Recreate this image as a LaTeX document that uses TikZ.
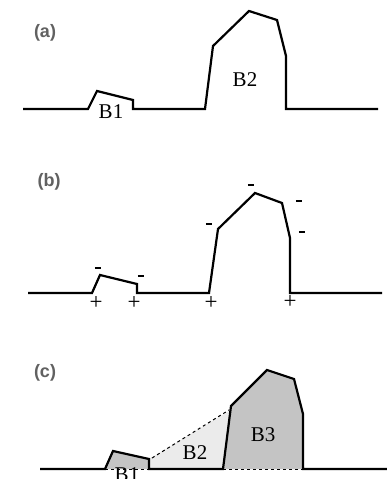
\documentclass[tikz,border=0pt]{standalone}
\usepackage{fontspec}
\setmainfont{Liberation Serif}
\newfontfamily\lblfont{Liberation Sans}
\begin{document}
\begin{tikzpicture}[x=1pt,y=-1pt,
  prof/.style={line width=2.2pt,line join=miter},
  panel/.style={font=\lblfont\bfseries\fontsize{18}{18}\selectfont,text=black!62,inner sep=0pt},
  blab/.style={font=\fontsize{21}{21}\selectfont,inner sep=0pt},
  sgn/.style={inner sep=0pt},
  psgn/.style={font=\fontsize{23}{23}\selectfont,inner sep=0pt},
  dsh/.style={line width=1pt,dash pattern=on 3pt off 3pt}]
\useasboundingbox (0,0) rectangle (387,479);
\fill[white] (0,0) rectangle (387,479);
\newcommand\mns{\rule[0pt]{6.5pt}{2.6pt}}
% ---------- (a)
\node[panel] (la) at (45,33) {(a)};
\draw[prof] (23,109) -- (88,109) -- (97,91) -- (133,100) -- (133,109) -- (205,109)
  -- (213,46) -- (249,11) -- (277,20) -- (286,56) -- (286,109) -- (378,109);
\node[blab] (a1) at (111,112) {B1};
\node[blab] (a2) at (245,80) {B2};
% ---------- (b)
\node[panel] (lb) at (49,182) {(b)};
\draw[prof] (28,293) -- (92,293) -- (100,275) -- (137,284) -- (137,293) -- (209,293)
  -- (218,229) -- (255,193) -- (282,203) -- (290,238) -- (290,293) -- (382,293);
\node[sgn] (m1) at (98,268) {\mns};
\node[sgn] (m2) at (141,276) {\mns};
\node[sgn] (m3) at (209,224) {\mns};
\node[sgn] (m4) at (251,185) {\mns};
\node[sgn] (m5) at (299,201) {\mns};
\node[sgn] (m6) at (302,232) {\mns};
\node[psgn] (p1) at (96,303) {+};
\node[psgn] (p2) at (134,303) {+};
\node[psgn] (p3) at (211,303) {+};
\node[psgn] (p4) at (290,302) {+};
% ---------- (c)
\node[panel] (lc) at (45,373) {(c)};
\fill[black!8] (149,459) -- (230.5,410) -- (223,469) -- (149,469) -- cycle;
\fill[black!23] (105,469) -- (113,451) -- (149,459) -- (149,469) -- cycle;
\fill[black!23] (223,469) -- (231,406) -- (267,370) -- (294,379) -- (303,414) -- (303,469) -- cycle;
\draw[dsh] (152,458) -- (229,410);
\draw[dsh] (105,469) -- (149,469);
\draw[dsh] (223,469) -- (303,469);
\draw[prof] (40,469) -- (105,469) -- (113,451) -- (149,459) -- (149,469) -- (223,469)
  -- (231,406) -- (267,370) -- (294,379) -- (303,414) -- (303,469) -- (390,469);
\node[blab] (c1) at (127,475) {B1};
\node[blab] (c2) at (195,453) {B2};
\node[blab] (c3) at (263,435) {B3};
\end{tikzpicture}
\end{document}
